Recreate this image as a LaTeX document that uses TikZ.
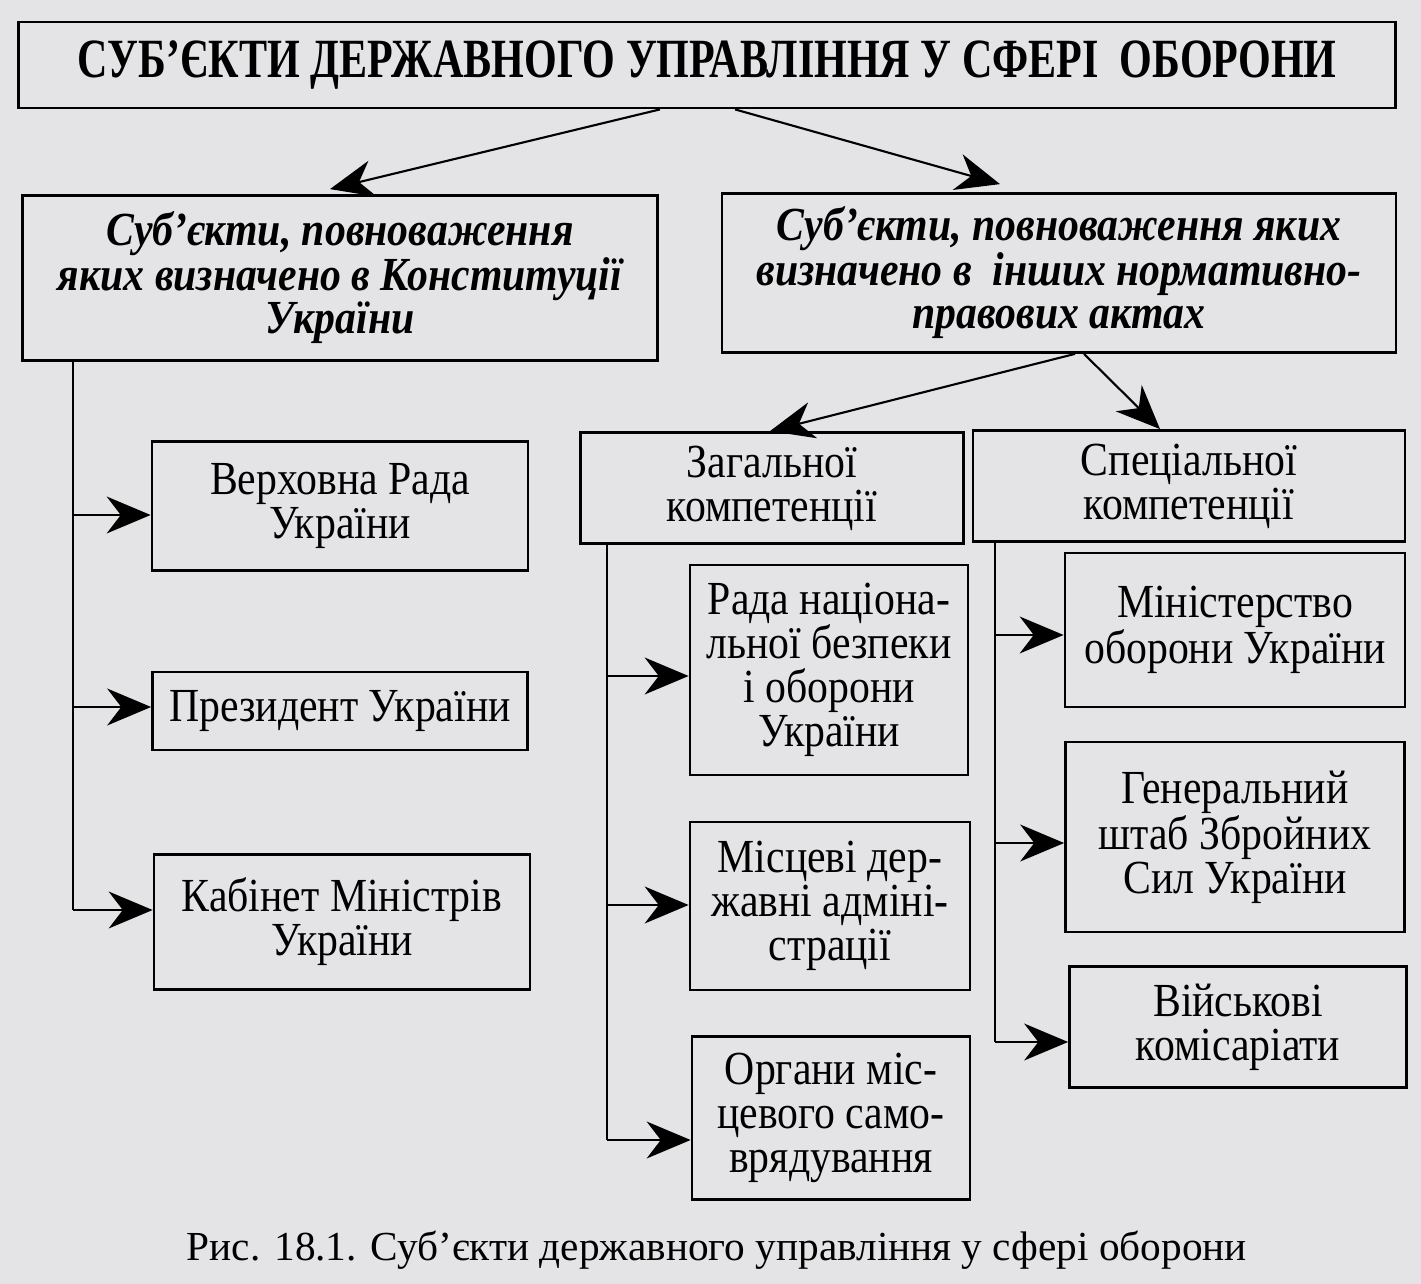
\documentclass[tikz,border=0pt]{standalone}
\usepackage{fontspec}
\setmainfont{Liberation Serif}
\newfontfamily\boxfont[FakeStretch=0.88]{Liberation Serif}
\newfontfamily\kindfont[FakeStretch=0.88]{Liberation Serif}
\newfontfamily\titlefont[FakeStretch=0.76]{Liberation Serif}
\usetikzlibrary{arrows.meta}
\definecolor{paper}{RGB}{228,228,230}

\begin{document}
\begin{tikzpicture}[
  x=0.02cm, y=-0.02cm,
  >={Stealth[length=25pt, width=21pt, inset=8pt]},
  frame/.style={
    rectangle, draw=black, line width=1.6pt, fill=paper,
    inner sep=2pt, text centered, align=center
  },
  headbox/.style={frame, font=\titlefont\bfseries\fontsize{31.5}{32}\selectfont},
  kindbox/.style={frame, font=\kindfont\bfseries\itshape\fontsize{27}{24.5}\selectfont},
  unitbox/.style={frame, font=\boxfont\fontsize{27}{25}\selectfont},
  link/.style={->, line width=1.2pt},
  trunk/.style={line width=1.2pt}
]
  \fill[paper] (0,0) rectangle (1421,1284);

  \node[headbox, minimum width=27.54cm, minimum height=1.72cm] (top) at (707,65)
    {СУБ’ЄКТИ ДЕРЖАВНОГО УПРАВЛІННЯ У СФЕРІ\ \ ОБОРОНИ};

  \node[kindbox, minimum width=12.7cm, minimum height=3.3cm] (const) at (340,278)
    {Суб’єкти, повноваження\\яких визначено в Конституції\\України};
  \node[kindbox, minimum width=13.48cm, minimum height=3.18cm] (other) at (1059,273)
    {Суб’єкти, повноваження яких\\визначено в\ \ інших нормативно-\\правових актах};

  % left column
  \node[unitbox, minimum width=7.52cm, minimum height=2.58cm] (vr)   at (340,506) {Верховна Рада\\України};
  \node[unitbox, minimum width=7.5cm,  minimum height=1.56cm] (pres) at (340,711) {Президент України};
  \node[unitbox, minimum width=7.52cm, minimum height=2.7cm]  (kab)  at (342,922) {Кабінет Міністрів\\України};

  % general and special competence
  \node[unitbox, minimum width=7.66cm, minimum height=2.22cm] (zag)  at (772,488)  {Загальної\\компетенції};
  \node[unitbox, minimum width=8.64cm, minimum height=2.22cm] (spec) at (1189,486) {Спеціальної\\компетенції};

  \node[unitbox, minimum width=5.56cm, minimum height=4.2cm]  (rnb) at (829,670)  {Рада націона-\\льної безпеки\\і оборони\\України};
  \node[unitbox, minimum width=5.6cm,  minimum height=3.36cm] (mda) at (830,906)  {Місцеві дер-\\жавні адміні-\\страції};
  \node[unitbox, minimum width=5.56cm, minimum height=3.26cm] (oms) at (831,1118) {Органи міс-\\цевого само-\\врядування};

  \node[unitbox, minimum width=6.8cm,  minimum height=3.08cm] (mou)  at (1235,630)  {Міністерство\\оборони України};
  \node[unitbox, minimum width=6.78cm, minimum height=3.8cm]  (gsh)  at (1235,837)  {Генеральний\\штаб Збройних\\Сил України};
  \node[unitbox, minimum width=6.74cm, minimum height=2.42cm] (vkom) at (1238,1027) {Військові\\комісаріати};

  \node[font=\rmfamily\fontsize{23.5}{24}\selectfont] (cap) at (717,1250)
    {Рис. 18.1. Суб’єкти державного управління у сфері оборони};

  % arrows from the top
  \draw[link] ([xshift=-0.94cm]top.south)  -- ([xshift=-0.2cm, yshift=0.1cm]const.north);
  \draw[link] ([xshift=0.56cm]top.south)   -- ([xshift=-1.18cm, yshift=0.16cm]other.north);
  \draw[link] ([xshift=0.32cm]other.south) -- ([xshift=-0.04cm]zag.north);
  \draw[link] ([xshift=0.5cm]other.south)  -- ([xshift=-0.58cm]spec.north);

  % branch points
  \coordinate (l1) at (73,515);
  \coordinate (l2) at (73,707);
  \coordinate (l3) at (73,910);
  \coordinate (m1) at (607,676);
  \coordinate (m2) at (607,905);
  \coordinate (m3) at (607,1140);
  \coordinate (r1) at (995,635);
  \coordinate (r2) at (995,843);
  \coordinate (r3) at (995,1042);

  \draw[trunk] (l3 |- const.south) -- (l3);
  \draw[trunk] (m3 |- zag.south)   -- (m3);
  \draw[trunk] (r3 |- spec.south)  -- (r3);

  \draw[link] (l1) -- (l1 -| vr.west);
  \draw[link] (l2) -- (l2 -| pres.west);
  \draw[link] (l3) -- (l3 -| kab.west);
  \draw[link] (m1) -- (m1 -| rnb.west);
  \draw[link] (m2) -- (m2 -| mda.west);
  \draw[link] (m3) -- (m3 -| oms.west);
  \draw[link] (r1) -- (r1 -| mou.west);
  \draw[link] (r2) -- (r2 -| gsh.west);
  \draw[link] (r3) -- (r3 -| vkom.west);
\end{tikzpicture}
\end{document}
